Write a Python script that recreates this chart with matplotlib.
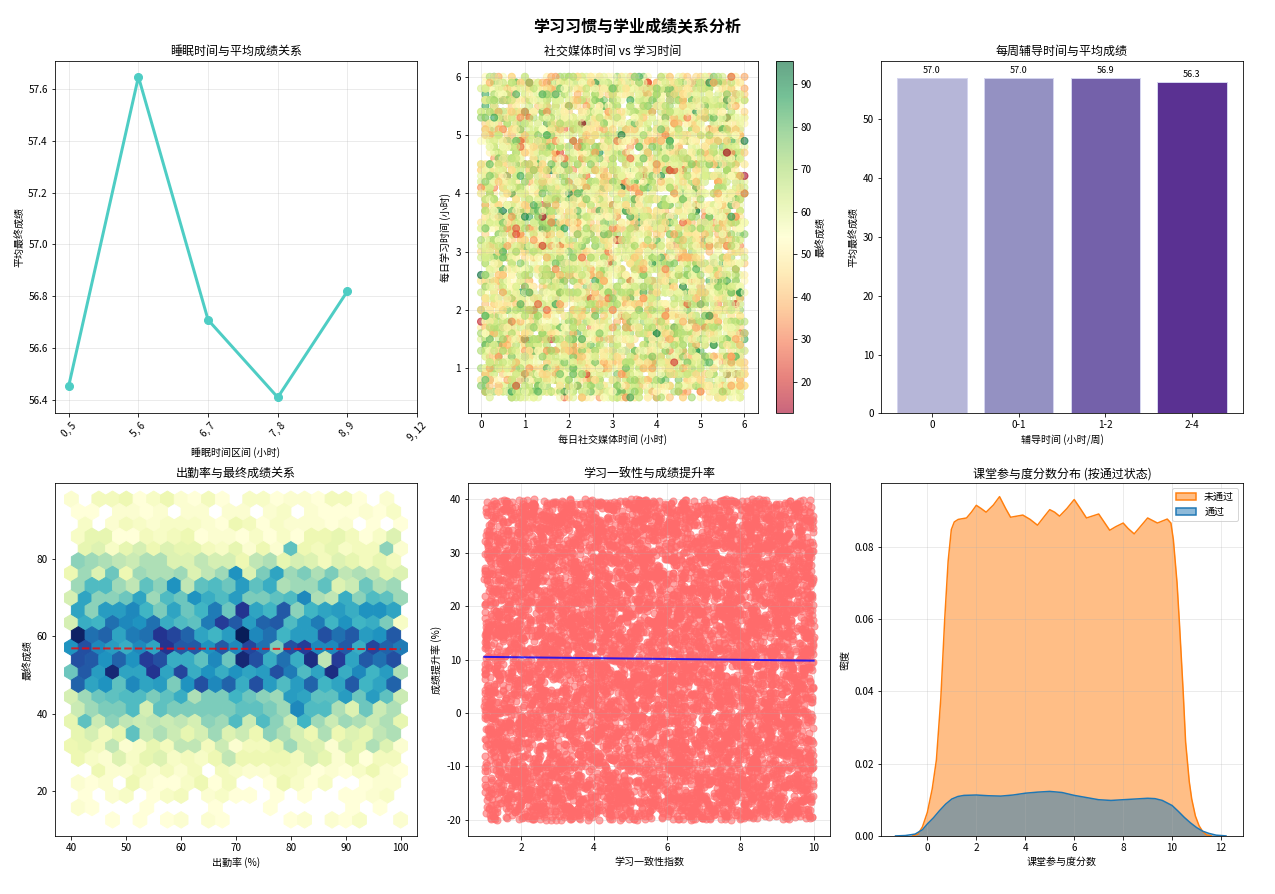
import numpy as np
import matplotlib
matplotlib.use("Agg")
import matplotlib.pyplot as plt
from matplotlib.patches import Patch

plt.rcParams['font.family'] = ['Noto Sans CJK SC', 'DejaVu Sans']
plt.rcParams['axes.unicode_minus'] = False

# ---------------- data ----------------
sleep_bins = ["0, 5", "5, 6", "6, 7", "7, 8", "8, 9", "9, 12"]
sleep_scores = [56.455, 57.647, 56.709, 56.41, 56.82, np.nan]

tutor_bins = ["0", "0-1", "1-2", "2-4"]
tutor_scores = [57.03, 57.01, 56.93, 56.30]
tutor_colors = ["#b6b6d8", "#9491c2", "#7461aa", "#5a3192"]

# KDE curves (x, density)
kde_fail_x = [-0.6, -0.38, -0.2, 0.0, 0.2, 0.37, 0.55, 0.71, 0.85, 0.98, 1.1, 1.26, 1.6, 1.8, 2.0, 2.2,
              2.4, 2.7, 2.95, 3.2, 3.4, 3.9, 4.2, 4.5, 4.8, 5.0, 5.2, 5.4, 5.7, 6.0, 6.25, 6.5, 7.0,
              7.2, 7.45, 7.7, 8.0, 8.2, 8.45, 8.7, 9.0, 9.4, 9.8, 9.95, 10.05, 10.2, 10.3, 10.45,
              10.55, 10.7, 10.8, 10.95, 11.1, 11.25, 11.4, 11.6]
kde_fail_y = [0.0, 0.0005, 0.0025, 0.0065, 0.013, 0.021, 0.038, 0.060, 0.076, 0.0847, 0.0868, 0.0875,
              0.0879, 0.0895, 0.0914, 0.0905, 0.0895, 0.0915, 0.0938, 0.0905, 0.0881, 0.0887, 0.0875,
              0.0859, 0.0885, 0.0902, 0.0895, 0.0884, 0.0905, 0.0930, 0.0905, 0.0879, 0.0890, 0.0870,
              0.0845, 0.0855, 0.0865, 0.0850, 0.0835, 0.0855, 0.0879, 0.0865, 0.0876, 0.0865, 0.0819,
              0.070, 0.0586, 0.040, 0.026, 0.015, 0.0102, 0.0055, 0.0028, 0.0012, 0.0003, 0.0]
kde_pass_x = [-1.3, -0.9, -0.5, -0.2, 0.0, 0.25, 0.5, 0.75, 1.0, 1.25, 1.5, 2.0, 2.5, 3.0, 3.5, 4.0,
              4.5, 5.0, 5.5, 6.0, 6.5, 7.0, 7.5, 8.0, 8.5, 9.0, 9.3, 9.6, 10.0, 10.25, 10.5, 10.75,
              11.0, 11.25, 11.5, 11.8, 12.2]
kde_pass_y = [0.0, 0.0001, 0.0005, 0.0017, 0.0033, 0.0050, 0.0070, 0.0088, 0.0102, 0.0109, 0.0112,
              0.0113, 0.0111, 0.0110, 0.0113, 0.0118, 0.0121, 0.0123, 0.0120, 0.0112, 0.0106, 0.0100,
              0.0098, 0.0100, 0.0102, 0.0104, 0.0103, 0.0098, 0.0084, 0.0068, 0.0051, 0.0036, 0.0023,
              0.0013, 0.0007, 0.0002, 0.0]

attend_trend = [56.9, 56.7]          # trend line at attendance 40 and 100
consist_trend = [10.5, 9.8]          # regression line at consistency 1 and 10
score_min, score_max = 12.5, 95.5    # range of final scores (colour bar ends)

# dense point clouds (too many points to read one by one; seeded for reproducibility)
rng = np.random.default_rng(11)
n_sm = 7000
social_media = np.round(rng.uniform(0, 6, n_sm), 1)
study_time = np.round(rng.uniform(0.5, 6, n_sm), 1)
final_sm = np.clip(rng.normal(57, 12.5, n_sm), score_min, score_max)

n_att = 7000
attendance = rng.uniform(40, 100, n_att)
final_att = np.clip(rng.normal(56.8, 15, n_att), score_min, score_max)

n_con = 8000
consistency = rng.uniform(1, 10, n_con)
improvement = rng.uniform(-20, 40, n_con)

# ---------------- figure ----------------
DPI = 72
fig, axes = plt.subplots(2, 3, figsize=(1275 / DPI, 894 / DPI), dpi=DPI)
fig.subplots_adjust(left=0.043, right=0.975, top=0.932, bottom=0.065, wspace=0.14, hspace=0.198)
fig.suptitle("学习习惯与学业成绩关系分析", fontsize=16, fontweight='bold')

# 1. line chart
ax = axes[0, 0]
ax.plot(range(len(sleep_bins)), sleep_scores, marker='o', color='#4ECDC4', linewidth=3, markersize=8)
ax.set_xticks(range(len(sleep_bins)))
ax.set_xticklabels(sleep_bins, rotation=45)
ax.set_xlim(-0.2, 5)
ax.set_title("睡眠时间与平均成绩关系")
ax.set_xlabel("睡眠时间区间 (小时)")
ax.set_ylabel("平均最终成绩")
ax.grid(True, alpha=0.3)

# 2. scatter with colorbar
ax = axes[0, 1]
sc = ax.scatter(social_media, study_time, c=final_sm, cmap='RdYlGn', alpha=0.6, s=50,
                vmin=score_min, vmax=score_max)
cb = fig.colorbar(sc, ax=ax)
cb.set_label("最终成绩")
ax.set_xticks(range(0, 7))
ax.set_title("社交媒体时间 vs 学习时间")
ax.set_xlabel("每日社交媒体时间 (小时)")
ax.set_ylabel("每日学习时间 (小时)")
ax.grid(True, alpha=0.3)

# 3. bar chart
ax = axes[0, 2]
bars = ax.bar(tutor_bins, tutor_scores, color=tutor_colors, edgecolor='#d4d4ee', linewidth=1)
for b, v in zip(bars, tutor_scores):
    ax.text(b.get_x() + b.get_width() / 2, v + 0.5, f"{v:.1f}", ha='center', va='bottom', fontsize=9)
ax.set_ylim(0, 59.9)
ax.set_title("每周辅导时间与平均成绩")
ax.set_xlabel("辅导时间 (小时/周)")
ax.set_ylabel("平均最终成绩")

# 4. hexbin
ax = axes[1, 0]
ax.hexbin(attendance, final_att, gridsize=24, cmap='YlGnBu', mincnt=1)
ax.plot([40, 100], attend_trend, 'r--', linewidth=2, alpha=0.8)
ax.set_yticks([20, 40, 60, 80])
ax.set_title("出勤率与最终成绩关系")
ax.set_xlabel("出勤率 (%)")
ax.set_ylabel("最终成绩")

# 5. scatter + regression
ax = axes[1, 1]
ax.scatter(consistency, improvement, color='#FF6B6B', alpha=0.6, s=50)
ax.plot([1, 10], consist_trend, color='blue', linewidth=2, alpha=0.8)
ax.set_title("学习一致性与成绩提升率")
ax.set_xlabel("学习一致性指数")
ax.set_ylabel("成绩提升率 (%)")
ax.grid(True, alpha=0.3)

# 6. KDE
ax = axes[1, 2]
orange = '#ff7f0e'
blue = '#1f77b4'
ax.fill_between(kde_fail_x, kde_fail_y, color=orange, alpha=0.5, linewidth=0)
ax.plot(kde_fail_x, kde_fail_y, color=orange, linewidth=1.5)
ax.fill_between(kde_pass_x, kde_pass_y, color=blue, alpha=0.5, linewidth=0)
ax.plot(kde_pass_x, kde_pass_y, color=blue, linewidth=1.5)
ax.set_ylim(0, 0.0975)
ax.set_xlim(-1.9, 12.9)
handles = [Patch(facecolor=(1, 0.498, 0.055, 0.5), edgecolor=orange, linewidth=1.5),
           Patch(facecolor=(0.122, 0.467, 0.706, 0.5), edgecolor=blue, linewidth=1.5)]
ax.legend(handles, ["未通过", "通过"], loc='upper right')
ax.set_title("课堂参与度分数分布 (按通过状态)")
ax.set_xlabel("课堂参与度分数")
ax.set_ylabel("密度")
ax.grid(True, alpha=0.3)

plt.savefig("out.png", dpi=DPI)
